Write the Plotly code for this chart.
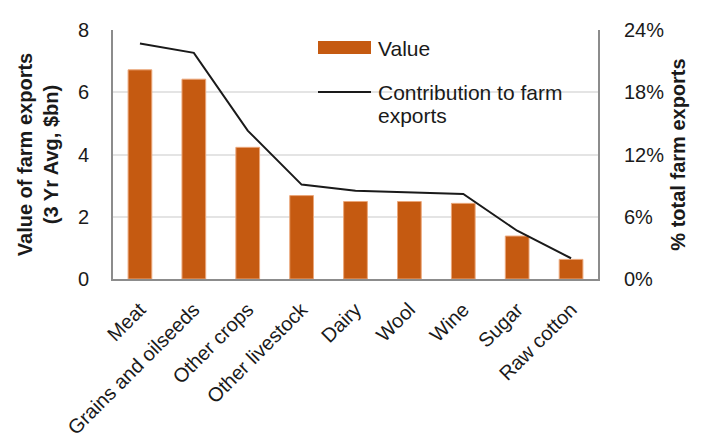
import plotly.graph_objects as go

# Farm export categories, 3-year average value ($bn) and share of total farm exports (%)
categories = ["Meat", "Grains and oilseeds", "Other crops", "Other livestock",
              "Dairy", "Wool", "Wine", "Sugar", "Raw cotton"]
value_bn = [6.72, 6.42, 4.23, 2.68, 2.49, 2.49, 2.43, 1.38, 0.63]
share_pct = [22.7, 21.8, 14.3, 9.1, 8.5, 8.35, 8.2, 4.65, 2.0]

BAR = "#C55A11"
FONT = "Arial, Liberation Sans, sans-serif"
AXIS = "#8c8c8c"
GRID = "#e4e4e4"

fig = go.Figure()
fig.add_trace(go.Bar(
    x=categories, y=value_bn, name="Value",
    marker=dict(color=BAR, line=dict(color="#eba77a", width=1)),
    showlegend=False,
))
fig.add_trace(go.Scatter(
    x=categories, y=share_pct, name="Contribution to farm exports",
    mode="lines", line=dict(color="#1a1a1a", width=2), yaxis="y2",
    showlegend=False,
))

L, R, T, B = 113, 108, 30, 165
W, H = 706, 444
pw, ph = W - L - R, H - T - B

def px_x(x):
    return (x - L) / pw

def px_y(y):
    return (H - B - y) / ph

# Legend drawn as swatches plus text
shapes = [
    dict(type="rect", xref="paper", yref="paper",
         x0=px_x(318), x1=px_x(371), y0=px_y(54), y1=px_y(41),
         fillcolor=BAR, line=dict(width=0)),
    dict(type="line", xref="paper", yref="paper",
         x0=px_x(318), x1=px_x(371), y0=px_y(92), y1=px_y(92),
         line=dict(color="#1a1a1a", width=2)),
]
annotations = [
    dict(text="Value", xref="paper", yref="paper", x=px_x(376), y=px_y(48),
         xanchor="left", yanchor="middle", showarrow=False,
         font=dict(family=FONT, size=21, color="#1a1a1a")),
    dict(text="Contribution to farm", xref="paper", yref="paper", x=px_x(376), y=px_y(92),
         xanchor="left", yanchor="middle", showarrow=False,
         font=dict(family=FONT, size=21, color="#1a1a1a")),
    dict(text="exports", xref="paper", yref="paper", x=px_x(376), y=px_y(115),
         xanchor="left", yanchor="middle", showarrow=False,
         font=dict(family=FONT, size=21, color="#1a1a1a")),
]

fig.update_layout(
    width=W, height=H,
    margin=dict(l=L, r=R, t=T, b=B, pad=0),
    paper_bgcolor="white", plot_bgcolor="white",
    font=dict(family=FONT, size=20, color="#1a1a1a"),
    bargap=0.56,
    shapes=shapes,
    annotations=annotations,
    xaxis=dict(
        tickangle=-45, showline=True, linecolor=AXIS, linewidth=2,
        ticks="", showgrid=False, tickfont=dict(size=20),
        ticklabelstandoff=9, automargin=False,
    ),
    yaxis=dict(
        range=[0, 8], dtick=2, showline=True, linecolor=AXIS, linewidth=2,
        gridcolor=GRID, gridwidth=1.5, zeroline=False, ticks="",
        ticklabelstandoff=18, automargin=False,
        title=dict(text="<b>Value of farm exports<br>(3 Yr Avg, $bn)</b>",
                   font=dict(size=20), standoff=14),
    ),
    yaxis2=dict(
        range=[0, 24], dtick=6, ticksuffix="%", overlaying="y", side="right",
        showline=True, linecolor=AXIS, linewidth=2, showgrid=False,
        zeroline=False, ticks="", ticklabelstandoff=20, automargin=False,
        title=dict(text="<b>% total farm exports</b>", font=dict(size=20), standoff=8),
    ),
)

fig.write_html("out.html")
